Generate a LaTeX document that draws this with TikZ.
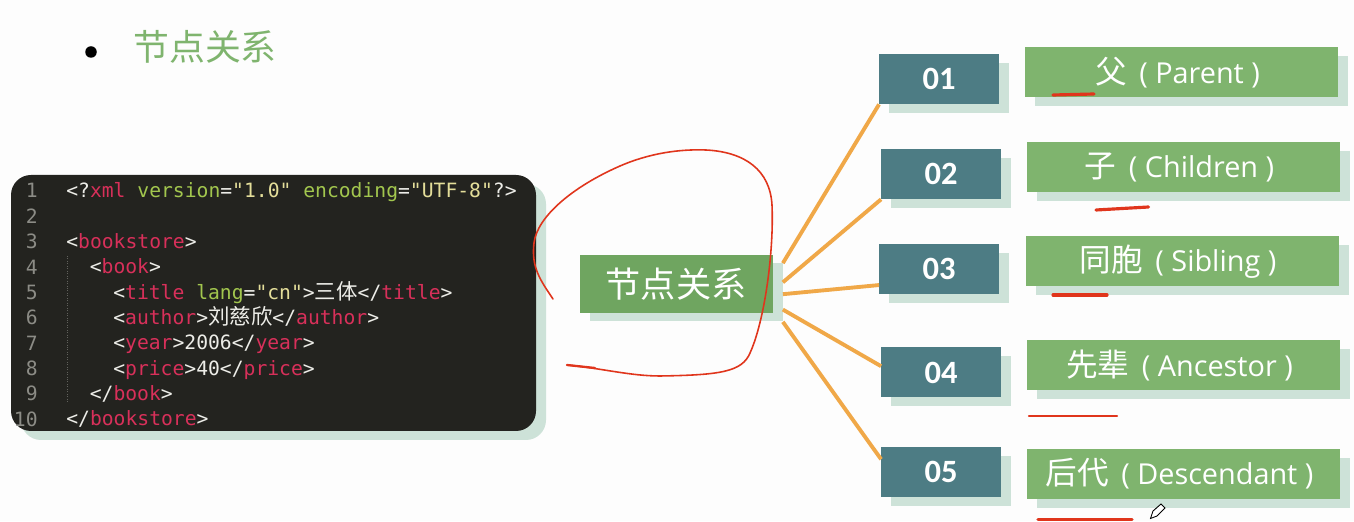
\documentclass[tikz,border=0pt]{standalone}
\usepackage{fontspec}
\usetikzlibrary{shadows}
\setmainfont{Open Sans}
\setmonofont{DejaVu Sans Mono}
\newfontfamily\cjk{Noto Sans CJK SC}
\newfontfamily\numfont{Carlito}
\definecolor{pagewhite}{HTML}{FDFDFD}
\definecolor{leafgreen}{HTML}{7FB46E}
\definecolor{maingreen}{HTML}{6FA560}
\definecolor{tealblue}{HTML}{4D7C84}
\definecolor{shadowgreen}{HTML}{CDE2D8}
\definecolor{linkorange}{HTML}{F0A848}
\definecolor{penred}{HTML}{E0351C}
\definecolor{codeback}{HTML}{23231F}
\definecolor{codewhite}{HTML}{EDEDE8}
\definecolor{codetag}{HTML}{D8305A}
\definecolor{codeattr}{HTML}{A2C64E}
\definecolor{codestr}{HTML}{E4DE9A}
\definecolor{codenum}{HTML}{8C8C86}
\newcommand{\tagname}[1]{\textcolor{codetag}{#1}}
\newcommand{\attrname}[1]{\textcolor{codeattr}{#1}}
\newcommand{\strval}[1]{\textcolor{codestr}{#1}}
\newcommand{\codecjk}[1]{{\cjk\fontsize{12.2pt}{12.2pt}\selectfont #1}}
\newcommand{\namecjk}[1]{{\cjk\fontsize{18pt}{16pt}\selectfont #1}\hspace{0.1cm}}
\tikzset{
  boxshadow/.style={general shadow={shadow xshift=0.2cm,shadow yshift=-0.18cm,fill=shadowgreen}},
  numbox/.style={boxshadow,fill=tealblue,text=white,minimum width=2.384cm,minimum height=1cm,inner sep=0pt,font=\numfont\bfseries\fontsize{18.5pt}{18.5pt}\selectfont},
  namebox/.style={boxshadow,fill=leafgreen,text=white,minimum width=6.26cm,minimum height=1cm,inner sep=0pt,font=\fontsize{16.4pt}{16.4pt}\selectfont,execute at end node={\hspace*{0.16cm}}},
  codeline/.style={anchor=base west,inner sep=0pt,text=codewhite,font=\ttfamily\fontsize{11.2pt}{11.2pt}\selectfont},
  linenum/.style={anchor=base east,inner sep=0pt,text=codenum,font=\ttfamily\fontsize{11.2pt}{11.2pt}\selectfont},
  link/.style={draw=linkorange,line width=2.2pt},
  penstroke/.style={draw=penred,line width=1.8pt,line cap=round}
}
\begin{document}
\begin{tikzpicture}
  \useasboundingbox[fill=pagewhite] (0,0) rectangle (27.08,10.42);

  % titre
  \fill[black] (1.82,9.38) circle (0.115);
  \node[text=leafgreen,font=\cjk\fontsize{20.4pt}{20.4pt}\selectfont] (title) at (4.1,9.48) {节点关系};

  % code
  \node[boxshadow,fill=codeback,rounded corners=0.4cm,minimum width=10.5cm,minimum height=5.12cm,inner sep=0pt] (codebox) at (5.47,4.36) {};
  \foreach \n in {1,...,10}
    \node[linenum] (num\n) at (0.76,{6.46-0.5067*(\n-1)}) {\n};
  \draw[codenum!60!codeback,densely dotted,thin] (1.34,5.3) -- (1.34,2.36);
  \node[codeline] (line1) at (1.32,6.46) {<?\tagname{xml} \attrname{version}=\strval{"1.0"} \attrname{encoding}=\strval{"UTF-8"}?>};
  \node[codeline] (line3) at (1.32,5.447) {<\tagname{bookstore}>};
  \node[codeline] (line4) at (1.79,4.94) {<\tagname{book}>};
  \node[codeline] (line5) at (2.26,4.433) {<\tagname{title} \attrname{lang}=\strval{"cn"}>\codecjk{三体}</\tagname{title}>};
  \node[codeline] (line6) at (2.26,3.927) {<\tagname{author}>\codecjk{刘慈欣}</\tagname{author}>};
  \node[codeline] (line7) at (2.26,3.42) {<\tagname{year}>2006</\tagname{year}>};
  \node[codeline] (line8) at (2.26,2.913) {<\tagname{price}>40</\tagname{price}>};
  \node[codeline] (line9) at (1.79,2.407) {</\tagname{book}>};
  \node[codeline] (line10) at (1.32,1.90) {</\tagname{bookstore}>};

  % noeud central
  \node[fill=shadowgreen,minimum width=3.86cm,minimum height=1.16cm] (relback) at (13.72,4.57) {};
  \node[fill=maingreen,text=white,minimum width=3.86cm,minimum height=1.16cm,inner sep=0pt,font=\cjk\fontsize{20pt}{20pt}\selectfont] (rel) at (13.52,4.73) {节点关系};

  % colonnes
  \node[numbox] (box1) at (18.78,8.84) {01};
  \node[numbox] (box2) at (18.82,6.94) {02};
  \node[numbox] (box3) at (18.78,5.04) {03};
  \node[numbox] (box4) at (18.82,2.97) {04};
  \node[numbox] (box5) at (18.82,0.98) {05};
  \node[namebox] (parent) at (23.63,8.97) {\namecjk{父} ( Parent )};
  \node[namebox] (children) at (23.67,7.08) {\namecjk{子} ( Children )};
  \node[namebox] (sibling) at (23.64,5.19) {\namecjk{同胞} ( Sibling )};
  \node[namebox] (ancestor) at (23.67,3.11) {\namecjk{先辈} ( Ancestor )};
  \node[namebox] (descendant) at (23.67,0.95) {\namecjk{后代} ( Descendant )};

  \foreach \a/\b in {north east/box1.south west,6.5/box2.south west,359/box3.195,350.5/box4.174,south east/box5.168.5}
    \draw[link] (relback.\a) -- (\b);

  % traits au stylet
  \draw[draw=penred,line width=0.9pt,line cap=round]
    (11.06,4.44) .. controls (10.82,4.80) and (10.62,5.06) .. (10.68,5.56)
    .. controls (10.74,6.08) and (11.44,6.68) .. (12.40,7.10)
    .. controls (13.00,7.36) and (13.60,7.44) .. (14.12,7.42)
    .. controls (14.90,7.38) and (15.40,7.02) .. (15.44,6.32)
    .. controls (15.48,5.42) and (15.30,4.02) .. (15.00,3.36)
    .. controls (14.84,2.98) and (14.40,2.92) .. (13.20,2.90)
    .. controls (12.60,2.90) and (12.00,3.06) .. (11.34,3.12);
  \draw[penstroke,line width=1.3pt] (11.34,3.12) -- (11.9,3.06);
  \draw[penstroke] (21.06,8.52) -- (21.88,8.54);
  \draw[penstroke] (21.92,6.22) -- (22.97,6.28);
  \draw[penstroke] (21.06,4.52) -- (22.14,4.52);
  \draw[penstroke,line width=1.3pt] (20.58,2.10) -- (22.34,2.10);
  \draw[penstroke] (20.76,0.03) -- (22.64,0.03);

  % curseur
  \draw[fill=white,draw=black,line width=0.5pt] (23.01,0.05) -- (23.06,0.20) -- (23.22,0.34) -- (23.30,0.26) -- (23.14,0.10) -- cycle;
\end{tikzpicture}
\end{document}
